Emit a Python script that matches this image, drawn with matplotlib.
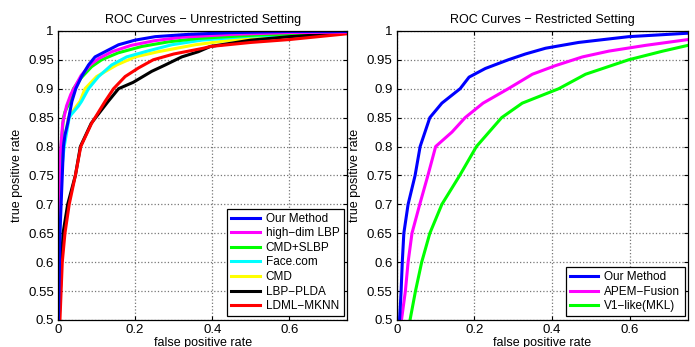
import numpy as np
import matplotlib.pyplot as plt

plt.rcParams['font.family'] = ['Liberation Sans', 'DejaVu Sans']

# ---- unrestricted setting (fpr, tpr) ----
unres_labels = ['Our Method', 'high−dim LBP', 'CMD+SLBP', 'Face.com', 'CMD', 'LBP−PLDA', 'LDML−MKNN']
unres_colors = ['#0000ff', '#ff00ff', '#00ff00', '#00ffff', '#ffff00', '#000000', '#ff0000']

ours_u_fpr = [0.001, 0.005, 0.011, 0.014, 0.018, 0.025, 0.036, 0.046, 0.061, 0.079, 0.096, 0.122, 0.157, 0.20, 0.252, 0.338, 0.45, 0.60, 0.75]
ours_u_tpr = [0.50, 0.65, 0.75, 0.80, 0.82, 0.84, 0.878, 0.90, 0.921, 0.941, 0.955, 0.964, 0.976, 0.984, 0.990, 0.994, 0.997, 0.999, 0.999]

hdlbp_fpr = [0.0, 0.002, 0.005, 0.012, 0.022, 0.033, 0.045, 0.060, 0.083, 0.105, 0.14, 0.19, 0.25, 0.32, 0.45, 0.60, 0.75]
hdlbp_tpr = [0.50, 0.65, 0.78, 0.84, 0.87, 0.89, 0.905, 0.923, 0.941, 0.952, 0.964, 0.975, 0.983, 0.989, 0.994, 0.997, 0.998]

cmdslbp_fpr = [0.0, 0.002, 0.003, 0.008, 0.014, 0.018, 0.031, 0.040, 0.059, 0.087, 0.113, 0.156, 0.217, 0.286, 0.364, 0.52, 0.75]
cmdslbp_tpr = [0.50, 0.68, 0.75, 0.80, 0.85, 0.86, 0.878, 0.90, 0.918, 0.938, 0.950, 0.962, 0.973, 0.981, 0.987, 0.993, 0.997]

face_fpr = [0.001, 0.004, 0.008, 0.016, 0.029, 0.034, 0.053, 0.061, 0.079, 0.105, 0.139, 0.178, 0.226, 0.295, 0.373, 0.50, 0.75]
face_tpr = [0.50, 0.65, 0.75, 0.80, 0.85, 0.855, 0.87, 0.878, 0.90, 0.921, 0.941, 0.955, 0.964, 0.976, 0.984, 0.991, 0.996]

cmd_fpr = [0.001, 0.004, 0.008, 0.014, 0.027, 0.048, 0.057, 0.070, 0.10, 0.152, 0.20, 0.26, 0.356, 0.45, 0.61, 0.75]
cmd_tpr = [0.50, 0.65, 0.75, 0.80, 0.85, 0.87, 0.878, 0.90, 0.921, 0.941, 0.955, 0.964, 0.976, 0.984, 0.993, 0.996]

plda_fpr = [0.003, 0.006, 0.009, 0.013, 0.025, 0.045, 0.058, 0.086, 0.13, 0.157, 0.195, 0.243, 0.278, 0.321, 0.364, 0.395, 0.50, 0.60, 0.75]
plda_tpr = [0.50, 0.55, 0.60, 0.65, 0.70, 0.75, 0.80, 0.84, 0.878, 0.90, 0.911, 0.930, 0.941, 0.955, 0.964, 0.973, 0.984, 0.990, 0.996]

ldml_fpr = [0.005, 0.008, 0.011, 0.018, 0.029, 0.045, 0.059, 0.087, 0.122, 0.144, 0.174, 0.209, 0.247, 0.30, 0.377, 0.395, 0.50, 0.60, 0.75]
ldml_tpr = [0.50, 0.55, 0.60, 0.65, 0.70, 0.75, 0.80, 0.84, 0.878, 0.90, 0.921, 0.936, 0.950, 0.960, 0.970, 0.973, 0.980, 0.985, 0.995]

unres_fpr = [ours_u_fpr, hdlbp_fpr, cmdslbp_fpr, face_fpr, cmd_fpr, plda_fpr, ldml_fpr]
unres_tpr = [ours_u_tpr, hdlbp_tpr, cmdslbp_tpr, face_tpr, cmd_tpr, plda_tpr, ldml_tpr]

# ---- restricted setting ----
res_labels = ['Our Method', 'APEM−Fusion', 'V1−like(MKL)']
res_colors = ['#0000ff', '#ff00ff', '#00ff00']

ours_r_fpr = [0.007, 0.011, 0.014, 0.018, 0.029, 0.047, 0.060, 0.085, 0.116, 0.163, 0.186, 0.228, 0.287, 0.331, 0.383, 0.468, 0.597, 0.75]
ours_r_tpr = [0.50, 0.55, 0.60, 0.65, 0.70, 0.75, 0.80, 0.85, 0.875, 0.90, 0.92, 0.935, 0.95, 0.96, 0.97, 0.98, 0.99, 0.996]

apem_fpr = [0.012, 0.022, 0.029, 0.039, 0.059, 0.08, 0.10, 0.142, 0.176, 0.222, 0.287, 0.349, 0.409, 0.478, 0.546, 0.641, 0.75]
apem_tpr = [0.50, 0.55, 0.60, 0.65, 0.70, 0.75, 0.80, 0.825, 0.85, 0.875, 0.90, 0.925, 0.94, 0.955, 0.965, 0.975, 0.985]

v1_fpr = [0.034, 0.048, 0.064, 0.085, 0.116, 0.162, 0.205, 0.27, 0.323, 0.417, 0.486, 0.597, 0.685, 0.75]
v1_tpr = [0.50, 0.55, 0.60, 0.65, 0.70, 0.75, 0.80, 0.85, 0.875, 0.90, 0.925, 0.95, 0.965, 0.975]

res_fpr = [ours_r_fpr, apem_fpr, v1_fpr]
res_tpr = [ours_r_tpr, apem_tpr, v1_tpr]


def style_axes(ax, title):
    ax.set_xlim(0, 0.75)
    ax.set_ylim(0.5, 1.0)
    ax.set_xticks([0, 0.2, 0.4, 0.6])
    ax.set_xticklabels(['0', '0.2', '0.4', '0.6'])
    yt = np.arange(0.5, 1.001, 0.05)
    ax.set_yticks(yt)
    ax.set_yticklabels(['%g' % round(v, 2) for v in yt])
    ax.tick_params(direction='in', top=True, right=True, length=3, labelsize=9.5, pad=3)
    ax.grid(True, linestyle=':', color='#777777', linewidth=0.9)
    for s in ax.spines.values():
        s.set_linewidth(0.9)
    ax.set_title(title, fontsize=9, pad=6)
    ax.set_xlabel('false positive rate', fontsize=9, labelpad=1)
    ax.set_ylabel('true positive rate', fontsize=9, labelpad=4)


fig = plt.figure(figsize=(6.95, 3.47), dpi=100)
ax1 = fig.add_axes([0.0835, 0.078, 0.416, 0.833])
ax2 = fig.add_axes([0.571, 0.078, 0.419, 0.833])

order = [0, 1, 2, 3, 4, 5, 6]
lines = {}
for i in [4, 3, 2, 5, 6, 1, 0]:
    ln, = ax1.plot(unres_fpr[i], unres_tpr[i], color=unres_colors[i], lw=2.2, label=unres_labels[i])
    lines[i] = ln
style_axes(ax1, 'ROC Curves − Unrestricted Setting')
leg1 = ax1.legend([lines[i] for i in order], [unres_labels[i] for i in order],
                  loc='lower right', fontsize=8.5, frameon=True, fancybox=False,
                  edgecolor='black', framealpha=1, handlelength=2.4, labelspacing=0.22,
                  borderpad=0.35, handletextpad=0.5, borderaxespad=0.3)
leg1.get_frame().set_linewidth(0.9)

lines2 = {}
for i in [2, 1, 0]:
    ln, = ax2.plot(res_fpr[i], res_tpr[i], color=res_colors[i], lw=2.2, label=res_labels[i])
    lines2[i] = ln
style_axes(ax2, 'ROC Curves − Restricted Setting')
leg2 = ax2.legend([lines2[i] for i in range(3)], res_labels,
                  loc='lower right', fontsize=8.5, frameon=True, fancybox=False,
                  edgecolor='black', framealpha=1, handlelength=2.4, labelspacing=0.22,
                  borderpad=0.35, handletextpad=0.5, borderaxespad=0.3)
leg2.get_frame().set_linewidth(0.9)

fig.savefig('out.png', dpi=100)
